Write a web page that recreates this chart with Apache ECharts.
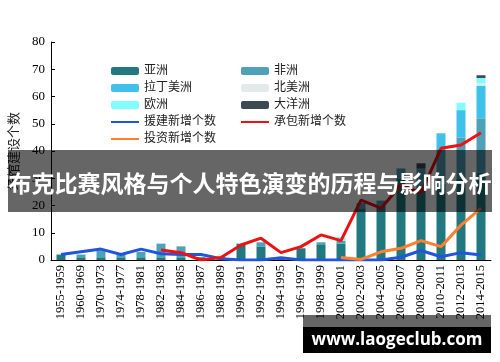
<!DOCTYPE html>
<html>
<head>
<meta charset="utf-8">
<script src="https://cdn.jsdelivr.net/npm/echarts@6/dist/echarts.min.js"></script>
<style>html,body{margin:0;padding:0;background:#fff}#c{width:500px;height:362px}</style>
</head>
<body>
<div id="c"></div>
<script>
const categories = ['1955-1959','1960-1969','1970-1973','1974-1977','1978-1981','1982-1983','1984-1985','1986-1987','1988-1989','1990-1991','1992-1993','1994-1995','1996-1997','1998-1999','2000-2001','2002-2003','2004-2005','2006-2007','2008-2009','2010-2011','2012-2013','2014-2015'];
const asia      = [2, 1, 1, 1, 1, 1, 1, 1, 1, 6, 5, 1, 4.3, 5.5, 6, 19, 20, 30, 26, 28, 30, 32];
const africa    = [0, 1, 2.5, 1, 2, 5, 4, 0, 0, 0, 1.5, 0, 0, 1, 1, 1.9, 1.8, 3.6, 7.5, 13, 15, 20];
const latin     = [0, 0, 0, 0, 0, 0, 0, 0, 0, 0, 0, 0, 0, 0, 0, 0, 0, 0, 0, 5.5, 10, 12];
const northAm   = [0, 0, 0, 0, 0, 0, 0, 0, 0, 0, 0, 0, 0, 0, 0, 0, 0, 0, 0, 0, 0, 0.8];
const europe    = [0, 0, 0, 0, 0, 0, 0, 0, 0, 0, 0, 0, 0, 0, 1.5, 0, 0, 0, 0, 0, 2.7, 2];
const oceania   = [0, 0, 0, 0, 0, 0, 0, 0, 0, 0, 0, 0, 0, 0, 0, 0, 0, 0, 2, 0, 0, 1];
const aidNew      = [2, 3, 4, 2, 4, 2.3, 2, 2, 0.5, 0, 0, 0.8, 0, 0, 0, 0, 0, 1, 3.5, 1.2, 2.7, 1.8];
const contractNew = [null, null, null, null, null, 3.7, 2.7, 0, 0.9, 5.5, 8, 2.7, 4.9, 9.2, 7.1, 22, 19, 27.5, 24.6, 41, 42.2, 46.7];
const investNew   = [null, null, null, null, null, null, null, null, null, null, null, null, null, null, 0.9, 0.2, 3, 4.3, 7.1, 4.9, 12.8, 19];
const yTicks = [0, 10, 20, 30, 40, 50, 60, 70, 80];

const serif = "'Liberation Serif','Noto Sans CJK SC',serif";
const chart = echarts.init(document.getElementById('c'));
function bar(name, data, color) {
  return {name, type: 'bar', stack: 'a', data, barWidth: 9, itemStyle: {color}, z: 2};
}
function line(name, data, color) {
  return {name, type: 'line', data, symbol: 'none', showSymbol: false, lineStyle: {color, width: 3}, itemStyle: {color}, z: 5, connectNulls: false};
}
function lineItem(name) {
  return {name, itemStyle: {opacity: 0, borderWidth: 0}};
}
chart.setOption({
  animation: false,
  grid: {left: 50, right: 9, top: 42, bottom: 102},
  legend: [
    {orient: 'vertical', left: 105, top: 60, itemWidth: 28, itemHeight: 8, itemGap: 5,
     textStyle: {fontFamily: serif, fontSize: 12, color: '#222'},
     data: ['亚洲', '拉丁美洲', '欧洲', lineItem('援建新增个数'), lineItem('投资新增个数')]},
    {orient: 'vertical', left: 235, top: 60, itemWidth: 28, itemHeight: 8, itemGap: 5,
     textStyle: {fontFamily: serif, fontSize: 12, color: '#222'},
     data: ['非洲', '北美洲', '大洋洲', lineItem('承包新增个数')]}
  ],
  xAxis: {
    type: 'category', data: categories, boundaryGap: true,
    axisLine: {lineStyle: {color: '#000', width: 1}},
    axisTick: {inside: true, length: 4, lineStyle: {color: '#000'}},
    axisLabel: {rotate: 90, interval: 0, fontFamily: serif, fontSize: 12.5, color: '#000', margin: 5}
  },
  yAxis: {
    type: 'value', min: yTicks[0], max: yTicks[yTicks.length - 1], interval: 10,
    name: '场馆建设个数', nameLocation: 'middle', nameGap: 30,
    nameTextStyle: {fontFamily: serif, fontSize: 13, color: '#222'},
    axisLine: {show: true, lineStyle: {color: '#000', width: 1}},
    axisTick: {show: true, inside: true, length: 4, lineStyle: {color: '#000'}},
    splitLine: {show: false},
    axisLabel: {fontFamily: serif, fontSize: 13, color: '#000', margin: 6}
  },
  series: [
    bar('亚洲', asia, '#21787f'),
    bar('非洲', africa, '#4fa1b8'),
    bar('拉丁美洲', latin, '#3fc1ea'),
    bar('北美洲', northAm, '#e4e9ea'),
    bar('欧洲', europe, '#80fdfd'),
    bar('大洋洲', oceania, '#3c4b52'),
    line('援建新增个数', aidNew, '#2255dd'),
    line('承包新增个数', contractNew, '#ee1111'),
    line('投资新增个数', investNew, '#ff7f2a')
  ],
  graphic: [
    {type: 'rect', z: 100, shape: {x: 8, y: 150, width: 484, height: 62}, style: {fill: 'rgba(0,0,0,0.6)'}},
    {type: 'text', z: 101, style: {x: 250, y: 183, text: '布克比赛风格与个人特色演变的历程与影响分析', fill: '#fff',
      font: "bold 23px 'Noto Sans CJK SC', sans-serif", textAlign: 'center', textVerticalAlign: 'middle'}},
    {type: 'rect', z: 100, shape: {x: 303, y: 315, width: 188, height: 12}, style: {fill: 'rgba(0,0,0,0.6)'}},
    {type: 'rect', z: 100, shape: {x: 303, y: 327, width: 188, height: 26}, style: {fill: '#000'}},
    {type: 'text', z: 101, style: {x: 397, y: 340, text: 'www.laogeclub.com', fill: '#fff',
      font: "bold 17px 'Open Sans', 'DejaVu Sans', sans-serif", textAlign: 'center', textVerticalAlign: 'middle'}}
  ]
});
</script>
</body>
</html>
